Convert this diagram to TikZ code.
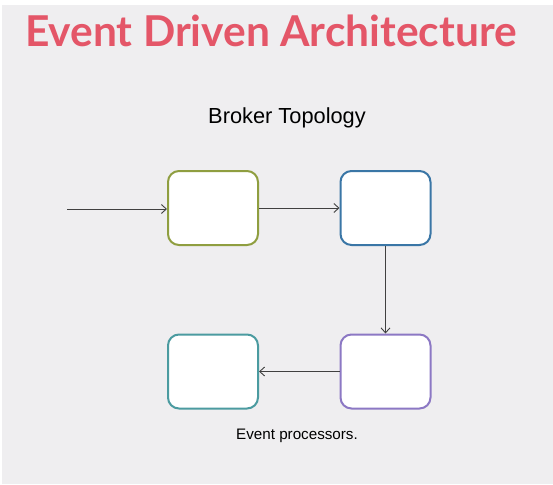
\documentclass[tikz,border=0pt]{standalone}
\usepackage{fontspec}
\setmainfont{Liberation Sans}
\newfontfamily\titlefont{Lato}
\usetikzlibrary{positioning, arrows.meta}

\definecolor{bggray}{RGB}{239,238,240}
\definecolor{titlered}{RGB}{228,86,104}
\definecolor{procgreen}{RGB}{143,158,64}
\definecolor{procblue}{RGB}{58,118,166}
\definecolor{procpurple}{RGB}{140,120,196}
\definecolor{procteal}{RGB}{75,155,160}

\tikzset{
    procbox/.style={draw, fill=white, line width=2pt, rounded corners=11pt,
        minimum width=90pt, minimum height=74pt, inner sep=0pt},
    flow/.style={-{Straight Barb[length=5pt, width=9pt]}, line width=0.9pt, draw=black!75}
}

\begin{document}
\begin{tikzpicture}[x=1pt, y=-1pt]
        \useasboundingbox (0, 0) rectangle (553, 484);
        \fill[white] (0, 0) rectangle (553, 484);
        \fill[bggray] (2, 5) rectangle (553, 484);

        \node[font=\titlefont\bfseries\fontsize{42.5}{48}\selectfont, text=titlered] (title) at (271, 31) {Event Driven Architecture};
        \node[font=\fontsize{21.8}{26}\selectfont] (topology) at (287, 118) {Broker Topology};

        \node[procbox, draw=procgreen] (green) at (213, 208) {};
        \node[procbox, draw=procblue] (blue) at (385.5, 208) {};
        \node[procbox, draw=procpurple] (purple) at (385.5, 371.5) {};
        \node[procbox, draw=procteal] (teal) at (213, 371.5) {};
        \coordinate (start) at (67, 209);

        \node[font=\fontsize{15.2}{18}\selectfont] (caption) at (297, 436) {Event processors.};

        \draw[flow] (start) -- (start -| green.west);
        \draw[flow] (green) -- (blue);
        \draw[flow] (blue) -- (purple);
        \draw[flow] (purple) -- (teal);
    \end{tikzpicture}
\end{document}
